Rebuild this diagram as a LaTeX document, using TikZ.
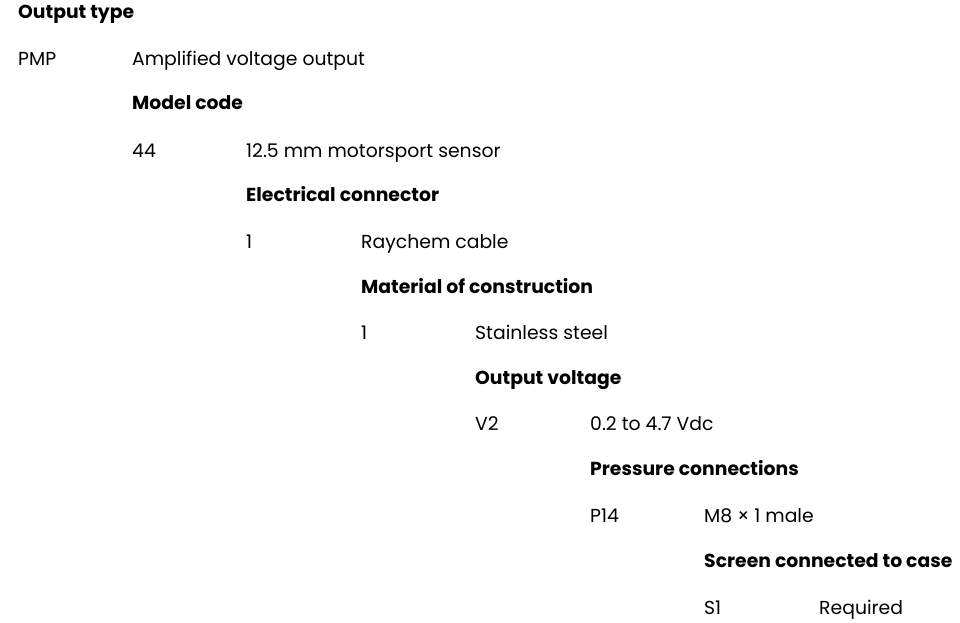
\documentclass[tikz,border=0pt]{standalone}
\usepackage{fontspec}
\setmainfont{Poppins}
\tikzset{
  head/.style={anchor=base west, inner sep=0pt, font=\bfseries\fontsize{18.8}{21}\selectfont},
  item/.style={anchor=base west, inner sep=0pt, font=\fontsize{18.8}{21}\selectfont}
}
\begin{document}
\begin{tikzpicture}[x=1pt, y=-1pt]
\useasboundingbox (0, 0) rectangle (960, 623);

\node[head] (typehead) at (18, 19) {Output type};
\node[item] (typecode) at (18, 66) {PMP};
\node[item] (typetext) at (132, 66) {Amplified voltage output};

\node[head] (modelhead) at (132, 110) {Model code};
\node[item] (modelcode) at (132, 157) {44};
\node[item] (modeltext) at (246, 157) {12.5 mm motorsport sensor};

\node[head] (connhead) at (246, 201) {Electrical connector};
\node[item] (conncode) at (246, 248) {1};
\node[item] (conntext) at (361, 248) {Raychem cable};

\node[head] (mathead) at (361, 293) {Material of construction};
\node[item] (matcode) at (361, 339) {1};
\node[item] (mattext) at (475, 339) {Stainless steel};

\node[head] (volthead) at (475, 384) {Output voltage};
\node[item] (voltcode) at (475, 430) {V2};
\node[item] (volttext) at (590, 430) {0.2 to 4.7 Vdc};

\node[head] (preshead) at (590, 475) {Pressure connections};
\node[item] (prescode) at (590, 522) {P14};
\node[item] (prestext) at (704, 522) {M8 × 1 male};

\node[head] (screenhead) at (704, 567) {Screen connected to case};
\node[item] (screencode) at (704, 614) {S1};
\node[item] (screentext) at (819, 614) {Required};
\end{tikzpicture}
\end{document}
